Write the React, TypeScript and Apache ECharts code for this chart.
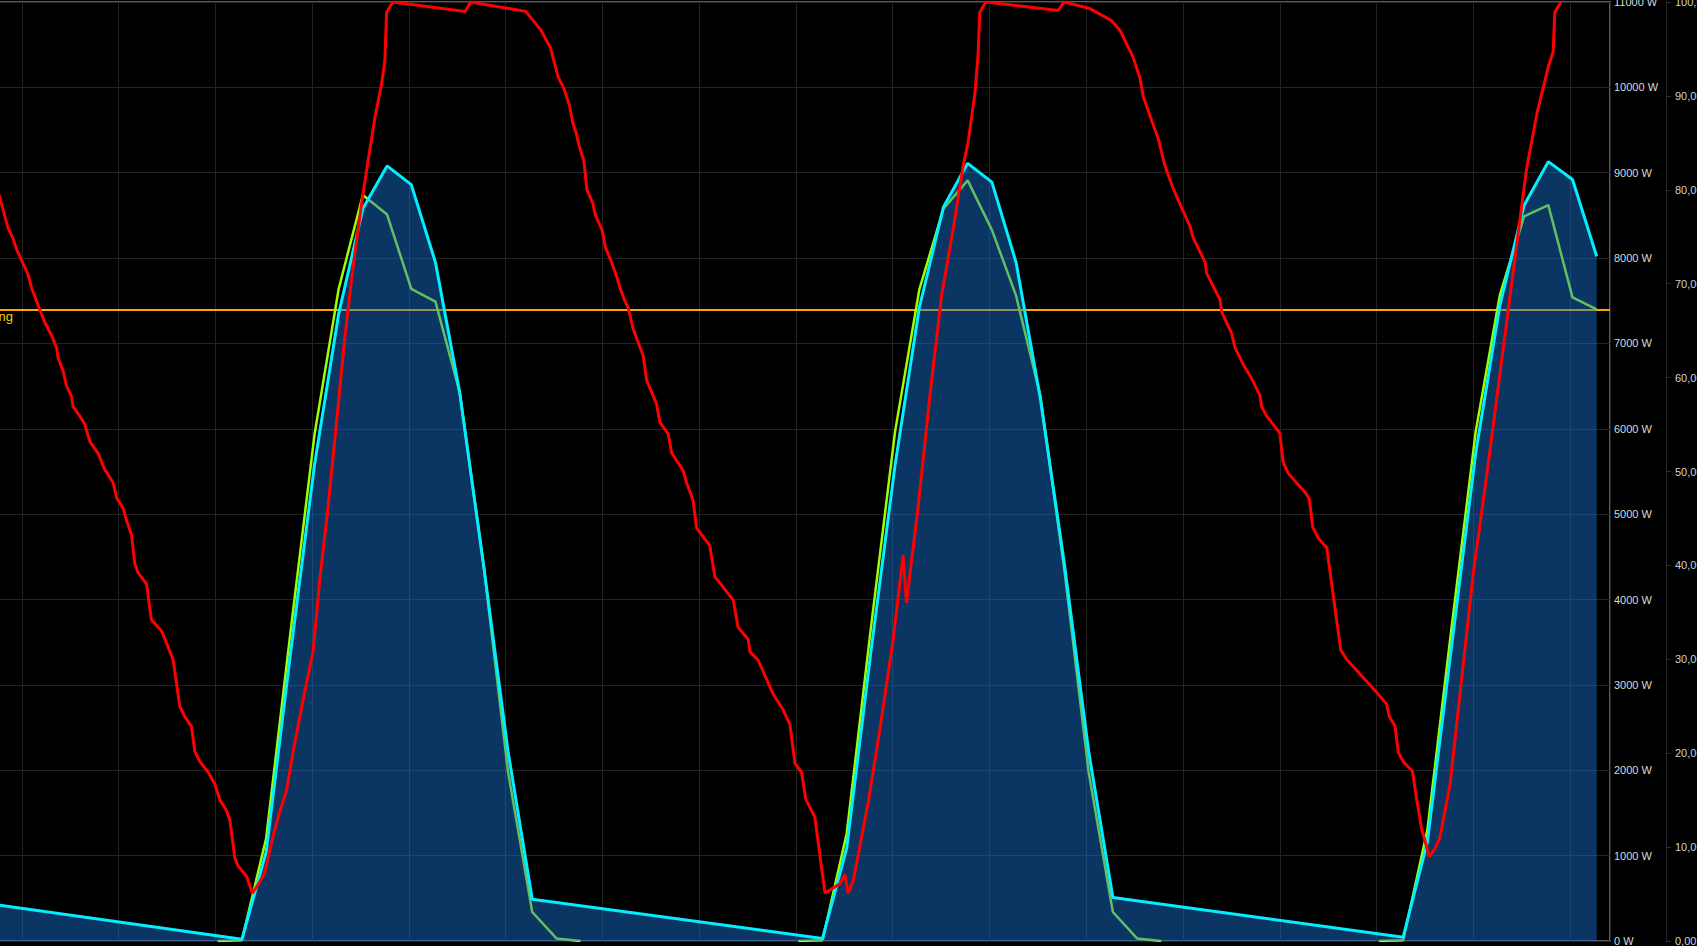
import React, { useEffect, useRef } from "react";
import * as echarts from "echarts";

// time in hours from the (partly hidden) left edge of the plot, power in W, battery in %
const hourMin = 0;
const hourMax = 69.65;
const hourStep = 4;
const powerMax = 11000;
const powerStep = 1000;
const socMax = 100;
const socStep = 10;
const feedInLimit = 7400;
const feedInLabel = "70% Abregelung";

const actualPower: [number, number][] = [
  [1.1, 500],
  [13.1, 20], [14.1, 1040], [15.1, 3350], [16.1, 5580], [17.1, 7350], [18.1, 8580], [19.1, 9080],
  [20.1, 8860], [21.1, 7950], [22.1, 6430], [23.1, 4380], [24.1, 2220], [25.1, 490],
  [37.1, 30], [38.1, 1090], [39.1, 3390], [40.1, 5580], [41.1, 7420], [42.1, 8600], [43.1, 9110],
  [44.1, 8890], [45.1, 7950], [46.1, 6360], [47.1, 4410], [48.1, 2220], [49.1, 510],
  [61.1, 45], [62.1, 1160], [63.1, 3450], [64.1, 5720], [65.1, 7450], [66.1, 8620], [67.1, 9130],
  [68.1, 8920], [69.1, 8020],
];

const forecastPower: [number, number | string][] = [
  [12.1, 0], [13.1, 10], [14.1, 1200], [15.1, 3600], [16.1, 5930], [17.1, 7640], [18.1, 8740],
  [19.1, 8510], [20.1, 7640], [21.1, 7490], [22.1, 6430], [23.1, 4380], [24.1, 1980], [25.1, 340],
  [26.1, 30], [27.1, 0], [31.6, "-"],
  [36.1, 0], [37.1, 10], [38.1, 1260], [39.1, 3670], [40.1, 5970], [41.1, 7630], [42.1, 8580],
  [43.1, 8910], [44.1, 8330], [45.1, 7560], [46.1, 6390], [47.1, 4340], [48.1, 1980], [49.1, 340],
  [50.1, 30], [51.1, 0], [55.6, "-"],
  [60.1, 0], [61.1, 10], [62.1, 1300], [63.1, 3670], [64.1, 5970], [65.1, 7570], [66.1, 8490],
  [67.1, 8620], [68.1, 7540], [69.1, 7400],
];

const batterySoc: [number, number][] = [
  [3.0, 80.0], [3.09, 79.2], [3.3, 77.2], [3.44, 75.9], [3.64, 74.8], [3.78, 73.7], [4.06, 72.1],
  [4.26, 71.0], [4.4, 69.6], [4.75, 67.2], [4.95, 65.9], [5.23, 64.5], [5.44, 63.2], [5.5, 62.1],
  [5.71, 60.7], [5.85, 59.1], [6.06, 58.0], [6.12, 56.9], [6.4, 55.9], [6.61, 55.0], [6.81, 53.2],
  [7.16, 51.9], [7.43, 50.2], [7.78, 48.8], [7.92, 47.2], [8.19, 46.1], [8.33, 44.8], [8.54, 43.2],
  [8.67, 40.2], [8.81, 39.2], [9.16, 38.0], [9.36, 34.2], [9.78, 33.0], [10.05, 31.3], [10.26, 29.9],
  [10.53, 25.0], [10.74, 23.9], [11.02, 22.8], [11.15, 20.2], [11.36, 19.1], [11.7, 18.0],
  [11.98, 16.7], [12.19, 15.0], [12.46, 13.9], [12.6, 12.9], [12.81, 8.8], [12.94, 8.0],
  [13.29, 6.9], [13.53, 5.1],
  [13.77, 6.0], [14.05, 7.3], [14.39, 11.2], [14.67, 13.8], [14.94, 16.0], [15.22, 20.2],
  [15.63, 25.7], [16.04, 30.8], [16.32, 38.5], [16.66, 46.2], [17.01, 55.2], [17.35, 64.2],
  [17.7, 71.9], [18.04, 78.4], [18.32, 83.2], [18.6, 87.7], [18.87, 91.2], [19.01, 93.8],
  [19.08, 98.9], [19.34, 100], [22.33, 99.0], [22.55, 100], [24.83, 99.0], [25.46, 97.0],
  [25.86, 95.1], [26.17, 92.0], [26.41, 90.8], [26.65, 88.9], [26.76, 87.3], [26.92, 86.0],
  [27.05, 84.6], [27.24, 83.0], [27.36, 80.0], [27.6, 78.6], [27.71, 77.3], [27.99, 75.7],
  [28.12, 73.9], [28.39, 72.2], [28.6, 70.7], [28.71, 69.7], [28.91, 68.3], [29.07, 67.4],
  [29.27, 65.2], [29.69, 62.3], [29.83, 59.7], [30.24, 57.2], [30.38, 55.2], [30.72, 54.0],
  [30.86, 52.0], [31.34, 50.1], [31.48, 48.8], [31.75, 46.9], [31.89, 44.0], [32.44, 42.1],
  [32.65, 38.8], [33.41, 36.3], [33.61, 33.4], [34.03, 32.1], [34.1, 30.8], [34.44, 29.9],
  [35.06, 26.3], [35.45, 24.7], [35.75, 23.1], [35.96, 18.9], [36.23, 18.0], [36.41, 15.1],
  [36.78, 13.2], [37.2, 5.1], [37.82, 6.1], [38.02, 7.1], [38.16, 5.1], [38.37, 6.4],
  [38.99, 14.8], [39.47, 22.5], [40.02, 32.1], [40.43, 41.1], [40.57, 36.0], [41.05, 46.2],
  [41.54, 58.1], [42.02, 68.7], [42.5, 75.8], [42.91, 82.5], [43.12, 85.1], [43.4, 90.3],
  [43.53, 94.4], [43.6, 98.9], [43.85, 100], [46.84, 99.1], [47.08, 100], [48.15, 99.3],
  [48.64, 98.6], [49.05, 98.0], [49.39, 97.0], [49.94, 94.1], [50.22, 91.9], [50.36, 89.9],
  [50.7, 87.4], [50.98, 85.4], [51.25, 82.6], [51.54, 80.5], [51.8, 78.9], [52.29, 76.1],
  [52.42, 74.9], [52.91, 72.3], [52.98, 71.1], [53.53, 68.3], [53.6, 67.0], [54.01, 64.7],
  [54.15, 63.2], [54.49, 61.4], [54.84, 59.9], [55.18, 58.1], [55.25, 56.9], [55.46, 55.9],
  [56.0, 54.1], [56.14, 51.0], [56.35, 49.8], [57.04, 47.8], [57.22, 47.1], [57.36, 44.1],
  [57.59, 42.9], [57.94, 41.9], [58.52, 31.0], [58.76, 30.0], [60.0, 26.5], [60.42, 25.2],
  [60.53, 23.9], [60.76, 22.9], [60.9, 20.1], [61.1, 19.1], [61.48, 18.1], [61.66, 15.1],
  [61.86, 12.0], [62.18, 9.0], [62.41, 9.8], [62.62, 11.0], [63.04, 16.7], [63.45, 26.3],
  [64.0, 39.2], [64.55, 49.5], [65.1, 60.4], [65.65, 71.3], [66.2, 82.2], [66.62, 88.0],
  [67.1, 93.1], [67.3, 94.7], [67.37, 98.9], [67.62, 100],
];

const labelFont = "'Liberation Sans', Arial, sans-serif";
const CHART_W = 1772;
const CHART_H = 946;

function buildOption(): any {
  return {
    animation: false,
    backgroundColor: "#000",
    grid: {
      left: 0,
      right: 87,
      top: 2,
      bottom: 5,
      containLabel: false,
      outerBoundsMode: "none",
      show: true,
      backgroundColor: "#000",
      borderColor: "#5c5c5c",
      borderWidth: 2,
    },
    xAxis: {
      type: "value",
      min: hourMin,
      max: hourMax,
      interval: hourStep,
      axisLine: { show: false },
      axisTick: { show: false },
      axisLabel: { show: false },
      splitLine: { show: true, lineStyle: { color: "#222222", width: 1 } },
    },
    yAxis: [
      {
        type: "value",
        position: "right",
        min: 0,
        max: powerMax,
        interval: powerStep,
        axisLine: { show: false },
        axisTick: { show: false },
        axisLabel: {
          margin: 4,
          color: "#d9d9d9",
          fontSize: 11,
          fontFamily: labelFont,
          formatter: (v: number) => `${v} W`,
        },
        splitLine: { show: true, lineStyle: { color: "#222222", width: 1 } },
      },
      {
        type: "value",
        position: "right",
        offset: 56,
        min: 0,
        max: socMax,
        interval: socStep,
        axisLine: { show: true, lineStyle: { color: "#262626", width: 1 } },
        axisTick: { show: true, length: 5, lineStyle: { color: "#303030" } },
        axisLabel: {
          margin: 9,
          color: "#d0d0d0",
          fontSize: 11,
          fontFamily: labelFont,
          formatter: (v: number) => `${v.toFixed(2).replace(".", ",")} %`,
        },
        splitLine: { show: false },
      },
    ],
    series: [
      {
        name: "Prognose",
        type: "line",
        yAxisIndex: 0,
        z: 2,
        data: forecastPower,
        showSymbol: false,
        connectNulls: false,
        color: "#9dff00",
        lineStyle: { color: "#9dff00", width: 2.5 },
        markLine: {
          silent: true,
          z: 1,
          symbol: "none",
          lineStyle: { color: "#ffa500", width: 2, type: "solid" },
          label: {
            show: true,
            position: "insideStartBottom",
            distance: [88, 1],
            align: "right",
            color: "#e8d400",
            fontSize: 13,
            fontFamily: labelFont,
            formatter: feedInLabel,
          },
          data: [{ yAxis: feedInLimit }],
        },
      },
      {
        name: "PV-Leistung",
        type: "line",
        yAxisIndex: 0,
        z: 3,
        data: actualPower,
        showSymbol: false,
        color: "#00f0ff",
        lineStyle: { color: "#00f0ff", width: 3 },
        areaStyle: { color: "rgba(24,115,213,0.46)", opacity: 1 },
      },
      {
        name: "Batterie",
        type: "line",
        yAxisIndex: 1,
        z: 4,
        data: batterySoc,
        showSymbol: false,
        color: "#ff0000",
        lineStyle: { color: "#ff0000", width: 3 },
      },
    ],
  };
}

export default function App() {
  const ref = useRef<HTMLDivElement>(null);
  useEffect(() => {
    if (!ref.current) return;
    const chart = echarts.init(ref.current, undefined, {
      renderer: "svg",
      width: CHART_W,
      height: CHART_H,
    });
    chart.setOption(buildOption());
    return () => chart.dispose();
  }, []);
  return (
    <div
      style={{
        position: "fixed",
        left: 0,
        top: 0,
        width: 1697,
        height: 946,
        overflow: "hidden",
        background: "#000",
      }}
    >
      <div
        ref={ref}
        style={{ position: "absolute", left: -75, top: 0, width: CHART_W, height: CHART_H }}
      />
    </div>
  );
}
